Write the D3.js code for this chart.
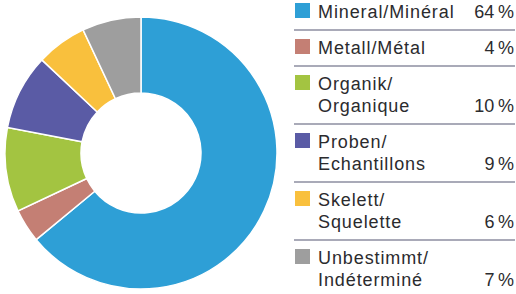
<!DOCTYPE html>
<html>
<head>
<meta charset="utf-8">
<script src="https://cdn.jsdelivr.net/npm/d3@7"></script>
<style>
  body { margin: 0; background: #fff; }
  text { font-family: "Liberation Sans", Arial, sans-serif; fill: #2b2b2e; }
</style>
</head>
<body>
<script>
// categories (two lines where the label wraps), shares in percent, colours
var labels = [
  ["Mineral/Minéral"],
  ["Metall/Métal"],
  ["Organik/", "Organique"],
  ["Proben/", "Echantillons"],
  ["Skelett/", "Squelette"],
  ["Unbestimmt/", "Indéterminé"]
];
var values = [64, 4, 10, 9, 6, 7];
var colors = ["#2e9fd6", "#c47f74", "#a3c441", "#5a5ba5", "#f9c03d", "#9e9e9e"];

var width = 516, height = 294;
var cx = 141, cy = 153, outerR = 136, innerR = 60;

var svg = d3.select("body").append("svg")
  .attr("width", width)
  .attr("height", height);

//donut
var pie = d3.pie().sort(null).value(function(d){ return d; });
var arc = d3.arc().innerRadius(innerR).outerRadius(outerR);

svg.append("g")
  .attr("transform", "translate(" + cx + "," + cy + ")")
  .selectAll("path")
  .data(pie(values))
  .enter().append("path")
  .attr("d", arc)
  .style("fill", function(d,i){ return colors[i]; })
  .style("stroke", "#fff")
  .style("stroke-width", 1.5);

//legend rows: work out baselines from the number of lines in each label
var lineH = 22, sepGap = 12, nextGap = 24;
var rows = [];
var y = 18;
for (i=0;i<labels.length;i++){
  var lines = [];
  for (j=0;j<labels[i].length;j++){ lines.push(y + j*lineH); }
  var last = lines[lines.length-1];
  rows.push({ lines: lines, sep: last + sepGap });
  y = last + sepGap + nextGap;
}

var legend = svg.append("g");
var fs = 18, ls = 0.9;

var row = legend.selectAll(".row").data(rows).enter().append("g").attr("class","row");

row.append("rect")
  .attr("x", 295)
  .attr("y", function(d){ return d.lines[0] - 15; })
  .attr("width", 15)
  .attr("height", 15)
  .style("fill", function(d,i){ return colors[i]; });

row.each(function(d,i){
  var g = d3.select(this);
  labels[i].forEach(function(t,j){
    g.append("text")
      .attr("x", 318)
      .attr("y", d.lines[j])
      .attr("font-size", fs)
      .attr("letter-spacing", ls)
      .text(t);
  });
  g.append("text")
    .attr("x", 514)
    .attr("y", d.lines[d.lines.length-1])
    .attr("font-size", fs)
    .attr("text-anchor", "end")
    .text(values[i] + "\u2009%");
  if (i < labels.length-1){
    g.append("line")
      .attr("x1", 294).attr("x2", 515)
      .attr("y1", d.sep).attr("y2", d.sep)
      .style("stroke", "#8d8ea0")
      .style("stroke-width", 1.5);
  }
});
</script>
</body>
</html>
